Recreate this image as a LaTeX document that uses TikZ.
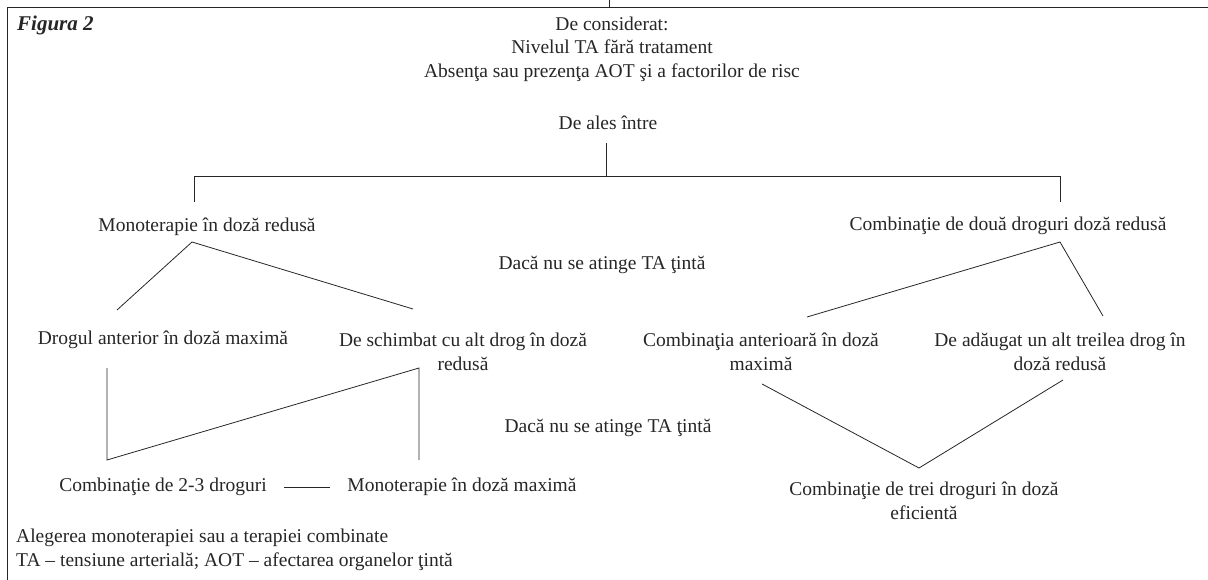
\documentclass[tikz,border=0pt]{standalone}
\usepackage{fontspec}
\setmainfont{Liberation Serif}
\begin{document}
\begin{tikzpicture}[x=1pt,y=-1pt,
  every node/.style={inner sep=0pt, text=black!85, font=\fontsize{19.5}{23.5}\selectfont},
  txt/.style={align=center},
  lft/.style={anchor=west},
  ln/.style={line width=0.8pt, draw=black!85}]
\useasboundingbox (0,0) rectangle (1208,580);
% frame
\coordinate (ftop) at (609,0);
\coordinate (fjoin) at (609,7);
\coordinate (ftl) at (7,7);
\coordinate (ftr) at (1208,7);
\coordinate (fbl) at (7,580);
\draw[ln] (ftop) -- (fjoin);
\draw[ln] (ftr) -- (ftl) -- (fbl);
% texts
\node[lft, font=\fontsize{21}{25}\selectfont\bfseries\itshape] (fig) at (17,25) {Figura 2};
\node[txt] (cons) at (612,49) {De considerat:\\Nivelul TA fără tratament\\Absenţa sau prezenţa AOT şi a factorilor de risc};
\node (ales) at (608,123) {De ales între};
\node (mono1) at (207,227) {Monoterapie în doză redusă};
\node (comb1) at (1008,226) {Combinaţie de două droguri doză redusă};
\node (daca1) at (602,265) {Dacă nu se atinge TA ţintă};
\node (drog) at (163,340) {Drogul anterior în doză maximă};
\node[txt] (schimb) at (463,352) {De schimbat cu alt drog în doză\\redusă};
\node[txt] (combant) at (761,352) {Combinaţia anterioară în doză\\maximă};
\node[txt] (adaug) at (1060,352) {De adăugat un alt treilea drog în\\doză redusă};
\node (daca2) at (608,428) {Dacă nu se atinge TA ţintă};
\node (comb23) at (163,487) {Combinaţie de 2-3 droguri};
\node (monomax) at (462,487) {Monoterapie în doză maximă};
\node[txt] (trei) at (924,501) {Combinaţie de trei droguri în doză\\eficientă};
\node[lft] (aleg) at (16,538) {Alegerea monoterapiei sau a terapiei combinate};
\node[lft] (abbr) at (16,562) {TA – tensiune arterială; AOT – afectarea organelor ţintă};
% connector points
\coordinate (t0) at (606,143);
\coordinate (t1) at (606,176);
\coordinate (hl) at (194,176);
\coordinate (hr) at (1060,176);
\coordinate (hld) at (194,202);
\coordinate (hrd) at (1060,202);
\coordinate (a1) at (192,242);
\coordinate (a1l) at (117,310);
\coordinate (a1r) at (413,309);
\coordinate (a2) at (1060,242);
\coordinate (a2l) at (807,317);
\coordinate (a2r) at (1103,316);
\coordinate (dl) at (107,368);
\coordinate (dlb) at (107,460);
\coordinate (sr) at (419,368);
\coordinate (srb) at (419,460);
\coordinate (s1) at (284,487);
\coordinate (s2) at (330,487);
\coordinate (vl) at (762,384);
\coordinate (vb) at (919,468);
\coordinate (vr) at (1063,380);
% connectors
\draw[ln] (t0) -- (t1);
\draw[ln] (hld) -- (hl) -- (hr) -- (hrd);
\draw[ln] (a1l) -- (a1) -- (a1r);
\draw[ln] (a2l) -- (a2) -- (a2r);
\draw[ln] (dl) -- (dlb) -- (sr) -- (srb);
\draw[ln] (s1) -- (s2);
\draw[ln] (vl) -- (vb) -- (vr);
\end{tikzpicture}
\end{document}
